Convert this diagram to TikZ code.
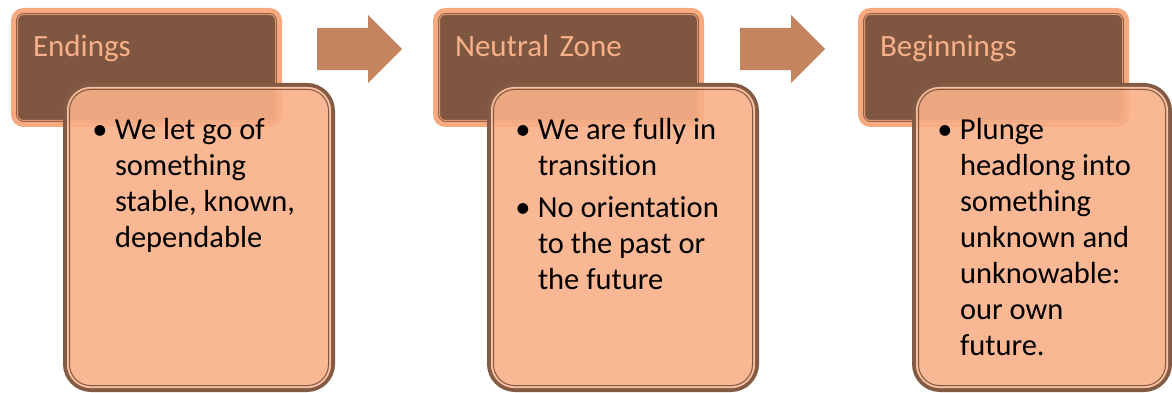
\documentclass[tikz,border=0pt]{standalone}
\usepackage{fontspec}
\setmainfont{Carlito}[Ligatures=NoCommon]
\usetikzlibrary{positioning, shapes.arrows}

\definecolor{hdrbrown}{HTML}{7F5640}
\definecolor{hdrband}{HTML}{F7A97F}
\definecolor{hdrline}{HTML}{E49870}
\definecolor{hdrlabel}{HTML}{F8B08A}
\definecolor{cardfill}{HTML}{F8AF88}
\definecolor{cardedge}{HTML}{835A44}
\definecolor{cardgap}{HTML}{F6C3A6}
\definecolor{arrowfill}{HTML}{C4845F}

\newcommand{\bitem}{\par\noindent\strut\llap{\makebox[0pt]{\textbullet}\hspace{15pt}}}
\newcommand{\cardtext}[3]{\parbox[c][305pt][t]{#1}{\fontsize{30.5}{36}\selectfont\raggedright\leftskip=#2\relax\vspace*{28.8pt}#3}}

\tikzset{
    hdrbox/.style={draw=hdrband, line width=5pt, fill=hdrbrown, rounded corners=10pt,
        text=hdrlabel, font=\fontsize{31}{36}\selectfont, text width=227pt, align=left,
        inner xsep=19.5pt, inner ysep=0pt, text height=46.5pt, text depth=67.5pt},
    hdrinner/.style={draw=hdrline, line width=1pt, rounded corners=6pt},
    card/.style={draw=cardedge, line width=4pt, fill=cardfill, fill opacity=0.9,
        text opacity=1, rounded corners=26pt, inner sep=0pt},
    cardgapline/.style={draw=cardgap, line width=1pt, rounded corners=23pt},
    cardinner/.style={draw=cardedge, line width=1pt, rounded corners=21pt},
    flowarrow/.style={single arrow, fill=arrowfill, draw=none, minimum height=85pt,
        single arrow head extend=13pt, single arrow tip angle=90,
        single arrow head indent=0pt, inner xsep=0pt, inner ysep=21pt}
}

\begin{document}
\begin{tikzpicture}[x=1pt, y=-1pt]
        \useasboundingbox (0,0) rectangle (1172,393);
        \node[hdrbox] (hd1) at (146.5,67.5) {Endings};
        \node[hdrbox] (hd2) [right=151pt of hd1] {Neutral Zone};
        \node[hdrbox] (hd3) [right=154pt of hd2] {Beginnings};
        \foreach \h in {hd1,hd2,hd3}
                \draw[hdrinner] ([shift={(6.5pt,-6.5pt)}]\h.north west) rectangle ([shift={(-6.5pt,6.5pt)}]\h.south east);
        \node[flowarrow] (ar1) [right=35pt of hd1.north east, yshift=-41pt] {};
        \node[flowarrow] (ar2) [right=36pt of hd2.north east, yshift=-41pt] {};
        \node[card] (bd1) [below right=75pt and 52pt of hd1.north west]
                {\cardtext{268pt}{50pt}{\bitem We let go of\\ something\\ stable, known,\\ dependable}};
        \node[card] (bd2) [below right=75pt and 54pt of hd2.north west]
                {\cardtext{268pt}{49pt}{\bitem We are fully in\\ transition\par\vspace{6pt}%
                \bitem No orientation\\ to the past or\\ the future}};
        \node[card] (bd3) [below right=75pt and 54pt of hd3.north west]
                {\cardtext{256pt}{46pt}{\bitem Plunge\\ headlong into\\ something\\ unknown and\\ unknowable:\\ our own\\ future.}};
        \foreach \c in {bd1,bd2,bd3} {
                \draw[cardgapline] ([shift={(4.5pt,-4.5pt)}]\c.north west) rectangle ([shift={(-4.5pt,4.5pt)}]\c.south east);
                \draw[cardinner] ([shift={(6.5pt,-6.5pt)}]\c.north west) rectangle ([shift={(-6.5pt,6.5pt)}]\c.south east);
        }
\end{tikzpicture}
\end{document}
